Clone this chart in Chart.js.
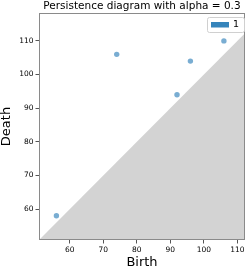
<!DOCTYPE html>
<html>
<head>
<meta charset="utf-8">
<script src="https://cdn.jsdelivr.net/npm/chart.js@4.4.0/dist/chart.umd.min.js"></script>
<style>
html,body{margin:0;padding:0;background:#fff;}
#wrap{width:249px;height:269px;position:relative;}
</style>
</head>
<body>
<div id="wrap"><canvas id="c" width="249" height="269"></canvas></div>
<script>
const seriesLabel = "1";
const birth = [56, 74, 92, 96, 106];
const death = [58, 106, 94, 104, 110];
const xLimits = [50.8, 112.3];
const yLimits = [50.8, 118.3];
const tickValues = [60, 70, 80, 90, 100, 110];
const titleText = "Persistence diagram with alpha = 0.3";
const xTitle = "Birth";
const yTitle = "Death";

const points = birth.map((b, i) => ({x: b, y: death[i]}));
const diagonal = [{x: xLimits[0], y: xLimits[0]}, {x: xLimits[1], y: xLimits[1]}];
const FONT = "'DejaVu Sans', sans-serif";

const framePlugin = {
  id: 'frame',
  afterDatasetsDraw(chart) {
    const ctx = chart.ctx, a = chart.chartArea;
    ctx.save();
    ctx.strokeStyle = '#8a8a8a';
    ctx.lineWidth = 1;
    ctx.strokeRect(a.left + 0.5, a.top + 0.5, a.right - a.left - 1, a.bottom - a.top - 1);
    // title centred over plot area
    ctx.fillStyle = '#000';
    ctx.font = "10.5px " + FONT;
    ctx.textAlign = 'center';
    ctx.textBaseline = 'middle';
    ctx.fillText(titleText, (a.left + a.right) / 2, 6);
    // legend
    const bx = 207.5, by = 17.5, bw = 37, bh = 15;
    ctx.fillStyle = 'rgba(255,255,255,0.8)';
    ctx.strokeStyle = '#d0d0d0';
    ctx.beginPath();
    if (ctx.roundRect) ctx.roundRect(bx, by, bw, bh, 2); else ctx.rect(bx, by, bw, bh);
    ctx.fill(); ctx.stroke();
    ctx.fillStyle = 'rgba(31,119,180,0.9)';
    ctx.fillRect(211, 22, 18, 5.5);
    ctx.fillStyle = '#000';
    ctx.font = "9.5px " + FONT;
    ctx.textBaseline = 'middle';
    ctx.textAlign = 'left';
    ctx.fillText(chart.data.datasets[0].label, 233, 25);
    ctx.restore();
  }
};

new Chart(document.getElementById('c'), {
  type: 'scatter',
  data: {
    datasets: [
      {
        label: seriesLabel,
        data: points,
        backgroundColor: 'rgba(31,119,180,0.6)',
        borderWidth: 0,
        pointRadius: 2.7,
        order: 0
      },
      {
        type: 'line',
        label: 'diag',
        data: diagonal,
        showLine: true,
        fill: 'start',
        backgroundColor: '#d3d3d3',
        borderColor: '#d3d3d3',
        borderWidth: 0,
        pointRadius: 0,
        order: 1
      }
    ]
  },
  options: {
    responsive: false,
    animation: false,
    devicePixelRatio: 1,
    layout: {padding: {left: 0, right: 1, top: 13, bottom: 0}},
    plugins: {
      legend: {display: false},
      tooltip: {enabled: false},
      title: {display: false}
    },
    scales: {
      x: {
        type: 'linear',
        min: xLimits[0], max: xLimits[1],
        afterBuildTicks(s) { s.ticks = tickValues.map(v => ({value: v})); },
        afterFit(s) { s.height = 29; s.paddingLeft = 0; s.paddingRight = 0; },
        ticks: {color: '#000', font: {family: FONT, size: 7.5}, padding: 2, maxRotation: 0},
        grid: {drawOnChartArea: false, drawTicks: true, tickLength: 3.5, color: '#555'},
        border: {display: false},
        title: {display: true, text: xTitle, color: '#000', font: {family: FONT, size: 13, lineHeight: 1}, padding: 0}
      },
      y: {
        type: 'linear',
        min: yLimits[0], max: yLimits[1],
        afterBuildTicks(s) { s.ticks = tickValues.map(v => ({value: v})); },
        afterFit(s) { s.width = 39; s.paddingTop = 0; s.paddingBottom = 0; },
        ticks: {color: '#000', font: {family: FONT, size: 7.5}, padding: 2},
        grid: {drawOnChartArea: false, drawTicks: true, tickLength: 3.5, color: '#555'},
        border: {display: false},
        title: {display: true, text: yTitle, color: '#000', font: {family: FONT, size: 13, lineHeight: 1}, padding: 0}
      }
    }
  },
  plugins: [framePlugin]
});
</script>
</body>
</html>
